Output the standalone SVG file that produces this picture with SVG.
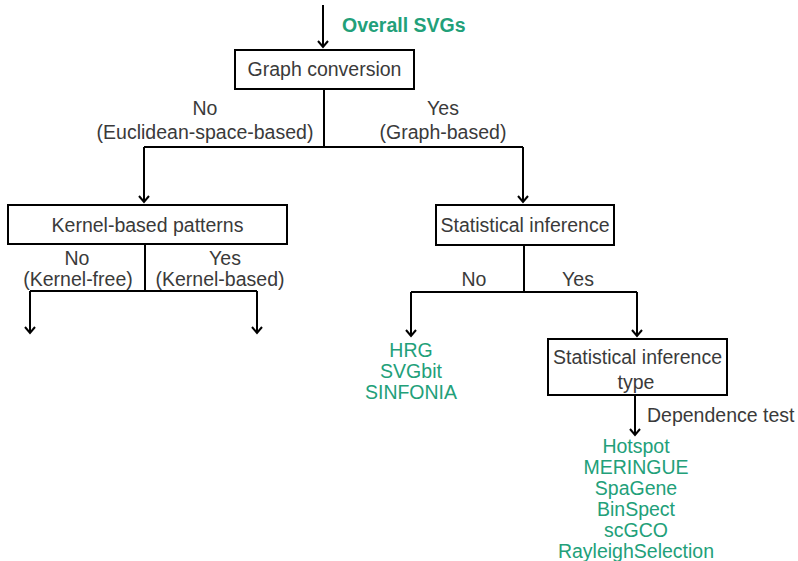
<svg xmlns="http://www.w3.org/2000/svg" width="798" height="561" viewBox="0 0 798 561">
<defs>
<marker id="arr" markerUnits="userSpaceOnUse" markerWidth="14" markerHeight="14" viewBox="-8 -7 10 14" refX="0" refY="0" orient="auto" overflow="visible">
<path d="M-6,-5 L0,0 L-6,5" fill="none" stroke="#000" stroke-width="2"/>
</marker>
<style>
.box{fill:#fff;stroke:#000;stroke-width:2}
.ln{fill:none;stroke:#000;stroke-width:2}
.t{font-family:"Liberation Sans",Arial,sans-serif;font-size:19.5px;fill:#3a3a3a;text-anchor:middle}
.g{font-family:"Liberation Sans",Arial,sans-serif;font-size:19.5px;fill:#22a079;text-anchor:middle}
.b{font-weight:bold;text-anchor:start}
</style>
</defs>
<rect width="798" height="561" fill="#fff"/>
<g id="connectors">
<path class="ln" d="M323,5 V47" marker-end="url(#arr)"/>
<path class="ln" d="M324,89 V147 M144,147 H523"/>
<path class="ln" d="M144,147 V202" marker-end="url(#arr)"/>
<path class="ln" d="M523,147 V202" marker-end="url(#arr)"/>
<path class="ln" d="M145,244 V291 M30,291 H257"/>
<path class="ln" d="M30,291 V333" marker-end="url(#arr)"/>
<path class="ln" d="M257,291 V333" marker-end="url(#arr)"/>
<path class="ln" d="M524,245 V292 M411,292 H637"/>
<path class="ln" d="M411,292 V336" marker-end="url(#arr)"/>
<path class="ln" d="M637,292 V336" marker-end="url(#arr)"/>
<path class="ln" d="M635,395 V435" marker-end="url(#arr)"/>
<text class="t" x="205" y="115">No</text>
<text class="t" x="205" y="139">(Euclidean-space-based)</text>
<text class="t" x="443" y="115">Yes</text>
<text class="t" x="443" y="139">(Graph-based)</text>
<text class="t" x="77" y="265">No</text>
<text class="t" x="78" y="286">(Kernel-free)</text>
<text class="t" x="225" y="265">Yes</text>
<text class="t" x="220" y="286">(Kernel-based)</text>
<text class="t" x="474" y="286">No</text>
<text class="t" x="578" y="286">Yes</text>
<text class="t" x="647" y="422" style="text-anchor:start">Dependence test</text>
</g>
<g id="overall"><text class="g b" x="342" y="32">Overall SVGs</text></g>
<g id="graph-conversion">
<rect class="box" x="235" y="50" width="179" height="39"/>
<text class="t" x="324.5" y="76">Graph conversion</text>
</g>
<g id="kernel-based-patterns">
<rect class="box" x="8" y="205" width="279" height="39"/>
<text class="t" x="147.5" y="232">Kernel-based patterns</text>
</g>
<g id="statistical-inference">
<rect class="box" x="436" y="205" width="178" height="40"/>
<text class="t" x="525" y="232">Statistical inference</text>
</g>
<g id="statistical-inference-type">
<rect class="box" x="548" y="339" width="179" height="56"/>
<text class="t" x="637.5" y="364">Statistical inference</text>
<text class="t" x="636" y="389">type</text>
</g>
<g id="no-stat-methods">
<text class="g" x="411" y="357">HRG</text>
<text class="g" x="411" y="378">SVGbit</text>
<text class="g" x="411" y="399">SINFONIA</text>
</g>
<g id="dependence-methods">
<text class="g" x="636" y="453">Hotspot</text>
<text class="g" x="636" y="474">MERINGUE</text>
<text class="g" x="636" y="495">SpaGene</text>
<text class="g" x="636" y="516">BinSpect</text>
<text class="g" x="636" y="537">scGCO</text>
<text class="g" x="636" y="558">RayleighSelection</text>
</g>
</svg>
